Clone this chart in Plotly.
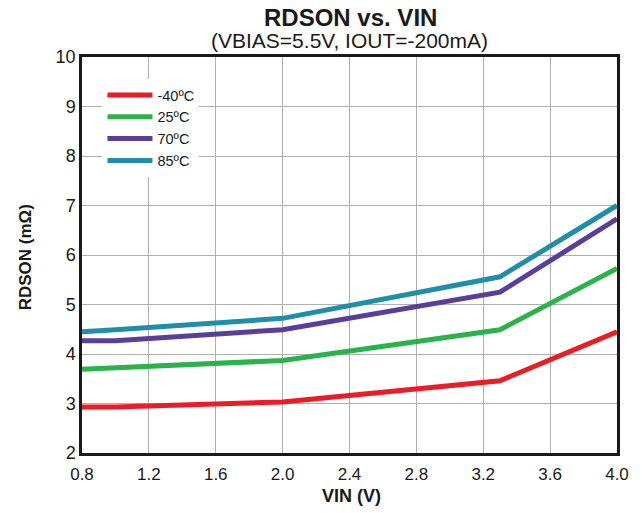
import plotly.graph_objects as go

vin = [0.8, 1.0, 2.0, 3.3, 4.0]
series_names = ["-40ºC", "25ºC", "70ºC", "85ºC"]
rdson_m40 = [2.93, 2.93, 3.03, 3.46, 4.45]
rdson_25 = [3.69, 3.72, 3.87, 4.49, 5.73]
rdson_70 = [4.27, 4.27, 4.49, 5.25, 6.73]
rdson_85 = [4.45, 4.49, 4.72, 5.56, 7.00]
colors = ["#ED1C24", "#2BB34B", "#5A3E9A", "#1F8EA9"]

x_ticks = [0.8, 1.2, 1.6, 2.0, 2.4, 2.8, 3.2, 3.6, 4.0]
y_ticks = [2, 3, 4, 5, 6, 7, 8, 9, 10]

FONT = "Liberation Sans, Arial, sans-serif"

fig = go.Figure()
for name, ys, c in zip(series_names, [rdson_m40, rdson_25, rdson_70, rdson_85], colors):
    fig.add_trace(go.Scatter(x=vin, y=ys, mode="lines", name=name,
                             line=dict(color=c, width=5)))

W, H = 642, 513
L, R, T, B = 81.5, 24.5, 57, 59.5
pw, ph = W - L - R, H - T - B

def px(xp):
    return (xp - L) / pw

def py(yp):
    return (H - B - yp) / ph

fig.update_layout(
    width=W, height=H,
    margin=dict(l=L, r=R, t=T, b=B, pad=0),
    paper_bgcolor="white", plot_bgcolor="white",
    font=dict(family=FONT, color="#1a1a1a"),
    showlegend=True,
    legend=dict(x=px(102), y=py(79), xanchor="left", yanchor="top",
                bgcolor="white", borderwidth=0,
                font=dict(size=14.5, family=FONT, color="#1a1a1a"),
                tracegroupgap=0, itemwidth=45),
    xaxis=dict(range=[0.8, 4.0], tickvals=x_ticks,
               ticktext=[f"{v:.1f}" for v in x_ticks],
               showgrid=True, gridcolor="#B0B0B0", gridwidth=1,
               showline=True, linecolor="#1a1a1a", linewidth=2.5, mirror=True,
               ticks="", zeroline=False, ticklabelstandoff=4,
               tickfont=dict(size=17, family=FONT, color="#1a1a1a")),
    yaxis=dict(range=[2, 10], tickvals=y_ticks,
               showgrid=True, gridcolor="#B0B0B0", gridwidth=1,
               showline=True, linecolor="#1a1a1a", linewidth=2.5, mirror=True,
               ticks="", zeroline=False,
               tickfont=dict(size=18, family=FONT, color="#1a1a1a")),
    annotations=[
        dict(text="<b>RDSON vs. VIN</b>", x=px(351), y=py(17.5), xref="paper", yref="paper",
             xanchor="center", yanchor="middle", showarrow=False,
             font=dict(size=24, family=FONT, color="#1a1a1a")),
        dict(text="(VBIAS=5.5V, IOUT=-200mA)", x=px(350), y=py(40.5), xref="paper", yref="paper",
             xanchor="center", yanchor="middle", showarrow=False,
             font=dict(size=21, family=FONT, color="#1a1a1a")),
        dict(text="<b>RDSON (mΩ)</b>", x=px(25), y=py(258), xref="paper", yref="paper",
             xanchor="center", yanchor="middle", showarrow=False, textangle=-90,
             font=dict(size=17, family=FONT, color="#1a1a1a")),
        dict(text="<b>VIN (V)</b>", x=px(352), y=py(497), xref="paper", yref="paper",
             xanchor="center", yanchor="middle", showarrow=False,
             font=dict(size=18, family=FONT, color="#1a1a1a")),
    ],
)

fig.write_html("out.html")
